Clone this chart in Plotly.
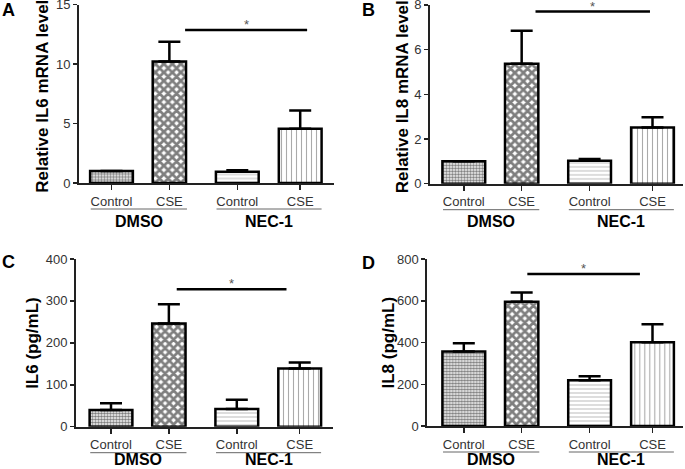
import plotly.graph_objects as go

# ---------------- data ----------------
conditions = ["Control", "CSE", "Control", "CSE"]
groups = ["DMSO", "NEC-1"]
panel_letters = ["A", "B", "C", "D"]
y_titles = ["Relative IL6 mRNA level", "Relative IL8 mRNA level", "IL6 (pg/mL)", "IL8 (pg/mL)"]

il6_mrna = [1.0, 10.2, 0.95, 4.55]
il6_mrna_err = [0.0, 1.67, 0.12, 1.55]
il8_mrna = [1.0, 5.37, 1.03, 2.52]
il8_mrna_err = [0.0, 1.47, 0.08, 0.45]
il6_protein = [40, 246, 42, 139]
il6_protein_err = [16, 46, 22, 14]
il8_protein = [357, 595, 219, 401]
il8_protein_err = [39, 44, 19, 86]

y_tickvals = [[0, 5, 10, 15], [0, 2, 4, 6, 8], [0, 100, 200, 300, 400], [0, 200, 400, 600, 800]]
sig_levels = [12.86, 7.70, 328, 728]

values = [il6_mrna, il8_mrna, il6_protein, il8_protein]
errors = [il6_mrna_err, il8_mrna_err, il6_protein_err, il8_protein_err]

# ---------------- layout / style ----------------
W, H = 685, 469
FONT = "Arial, Liberation Sans, Helvetica, sans-serif"
bar_pos = [0, 0.92, 2, 3]
bar_width = [0.68, 0.53, 0.68, 0.68]
unit_px = 62.9
# per panel pixel geometry: axis left x, right x, top y, zero y, first bar center x
geom = [
    dict(left=79, right=334, top=4.5, zero=183, c0=111.5),
    dict(left=430, right=683, top=4.9, zero=183.7, c0=463.8),
    dict(left=76, right=333, top=259, zero=426.7, c0=111),
    dict(left=427.3, right=683, top=259, zero=426, c0=463.8),
]
sig_x = [(1.17, 3.11), (1.14, 2.96), (1.045, 2.79), (1.01, 2.80)]
title_x = [43, 402, 33, 388]
letter_pos = [(8.5, 9.5), (368.5, 9.5), (8.5, 262), (368.5, 262.5)]
under_x = [(-0.33, 1.2), (1.67, 3.34)]
group_label_offset = [38, 38, 33, 33]

pat_shape = [".", "x", "-", "|"]
pat_size = [3, 6, 4, 5]
pat_sol = [0.6, 0.7, 0.25, 0.22]
pat_fg = ["#000000", "#000000", "#777777", "#555555"]


def py(y):
    return 1 - y / H


fig = go.Figure()
shapes = []
annotations = []

for i in range(4):
    g = geom[i]
    xa = "x" if i == 0 else f"x{i+1}"
    ya = "y" if i == 0 else f"y{i+1}"
    xr = [(g["left"] - g["c0"]) / unit_px, (g["right"] - g["c0"]) / unit_px]
    ymax = y_tickvals[i][-1]

    fig.add_trace(go.Bar(
        x=bar_pos, y=values[i], width=bar_width,
        xaxis=xa, yaxis=ya,
        marker=dict(
            color="white",
            line=dict(color="black", width=2.5),
            pattern=dict(shape=pat_shape, size=pat_size, solidity=pat_sol,
                         fgcolor=pat_fg, bgcolor="white", fillmode="overlay"),
        ),
        error_y=dict(type="data", array=errors[i], arrayminus=[0] * 4, symmetric=False,
                     color="black", thickness=2.5, width=11),
        showlegend=False, hoverinfo="skip",
    ))

    lay_x = "xaxis" if i == 0 else f"xaxis{i+1}"
    lay_y = "yaxis" if i == 0 else f"yaxis{i+1}"
    fig.layout[lay_x] = dict(
        domain=[g["left"] / W, g["right"] / W], range=xr, anchor=ya,
        tickvals=bar_pos, ticktext=conditions, ticks="outside", ticklen=5,
        tickwidth=1.5, tickcolor="#222", showline=True, linecolor="#222",
        linewidth=2, showgrid=False, zeroline=False, fixedrange=True,
        automargin=False, ticklabeloverflow="allow",
        tickfont=dict(family=FONT, size=13, color="#333"),
    )
    fig.layout[lay_y] = dict(
        domain=[py(g["zero"]), py(g["top"])], range=[0, ymax], anchor=xa,
        tickvals=y_tickvals[i], ticks="outside", ticklen=4, tickwidth=1.5,
        tickcolor="#222", showline=True, linecolor="#222", linewidth=2,
        showgrid=False, zeroline=False, fixedrange=True, automargin=False,
        ticklabeloverflow="allow",
        tickfont=dict(family=FONT, size=13, color="#333"),
    )

    # significance bar
    shapes.append(dict(type="line", xref=xa, yref=ya, x0=sig_x[i][0], x1=sig_x[i][1],
                       y0=sig_levels[i], y1=sig_levels[i],
                       line=dict(color="black", width=2.5)))
    annotations.append(dict(xref=xa, yref=ya, x=(sig_x[i][0] + sig_x[i][1]) / 2,
                            y=sig_levels[i], text="*", showarrow=False,
                            yanchor="bottom", yshift=-4,
                            font=dict(family=FONT, size=13, color="#555")))

    # group underline & labels
    for k, grp in enumerate(groups):
        x0, x1 = under_x[k]
        shapes.append(dict(type="line", xref=xa, yref="paper", x0=x0, x1=x1,
                           y0=py(g["zero"] + 26), y1=py(g["zero"] + 26),
                           line=dict(color="#666", width=1)))
        annotations.append(dict(xref=xa, yref="paper", x=(x0 + x1) / 2,
                                y=py(g["zero"] + group_label_offset[i]), text=f"<b>{grp}</b>",
                                showarrow=False, yanchor="middle", xanchor="center",
                                font=dict(family=FONT, size=16, color="black")))

    # y-axis title
    annotations.append(dict(xref="paper", yref="paper", x=title_x[i] / W,
                            y=py((g["top"] + g["zero"]) / 2 + (3 if i < 2 else 0)),
                            text=f"<b>{y_titles[i]}</b>", textangle=-90,
                            showarrow=False, xanchor="center", yanchor="middle",
                            font=dict(family=FONT, size=17, color="black")))
    # panel letter
    lx, ly = letter_pos[i]
    annotations.append(dict(xref="paper", yref="paper", x=lx / W, y=py(ly),
                            text=f"<b>{panel_letters[i]}</b>", showarrow=False,
                            xanchor="center", yanchor="middle",
                            font=dict(family=FONT, size=18, color="black")))

fig.update_layout(
    width=W, height=H, margin=dict(l=0, r=0, t=0, b=0, autoexpand=False),
    paper_bgcolor="white", plot_bgcolor="white",
    shapes=shapes, annotations=annotations, bargap=0,
    font=dict(family=FONT),
)

fig.write_html("out.html", config={"displayModeBar": False, "staticPlot": True},
               post_script="document.body.style.margin='0';document.body.style.overflow='hidden';")
